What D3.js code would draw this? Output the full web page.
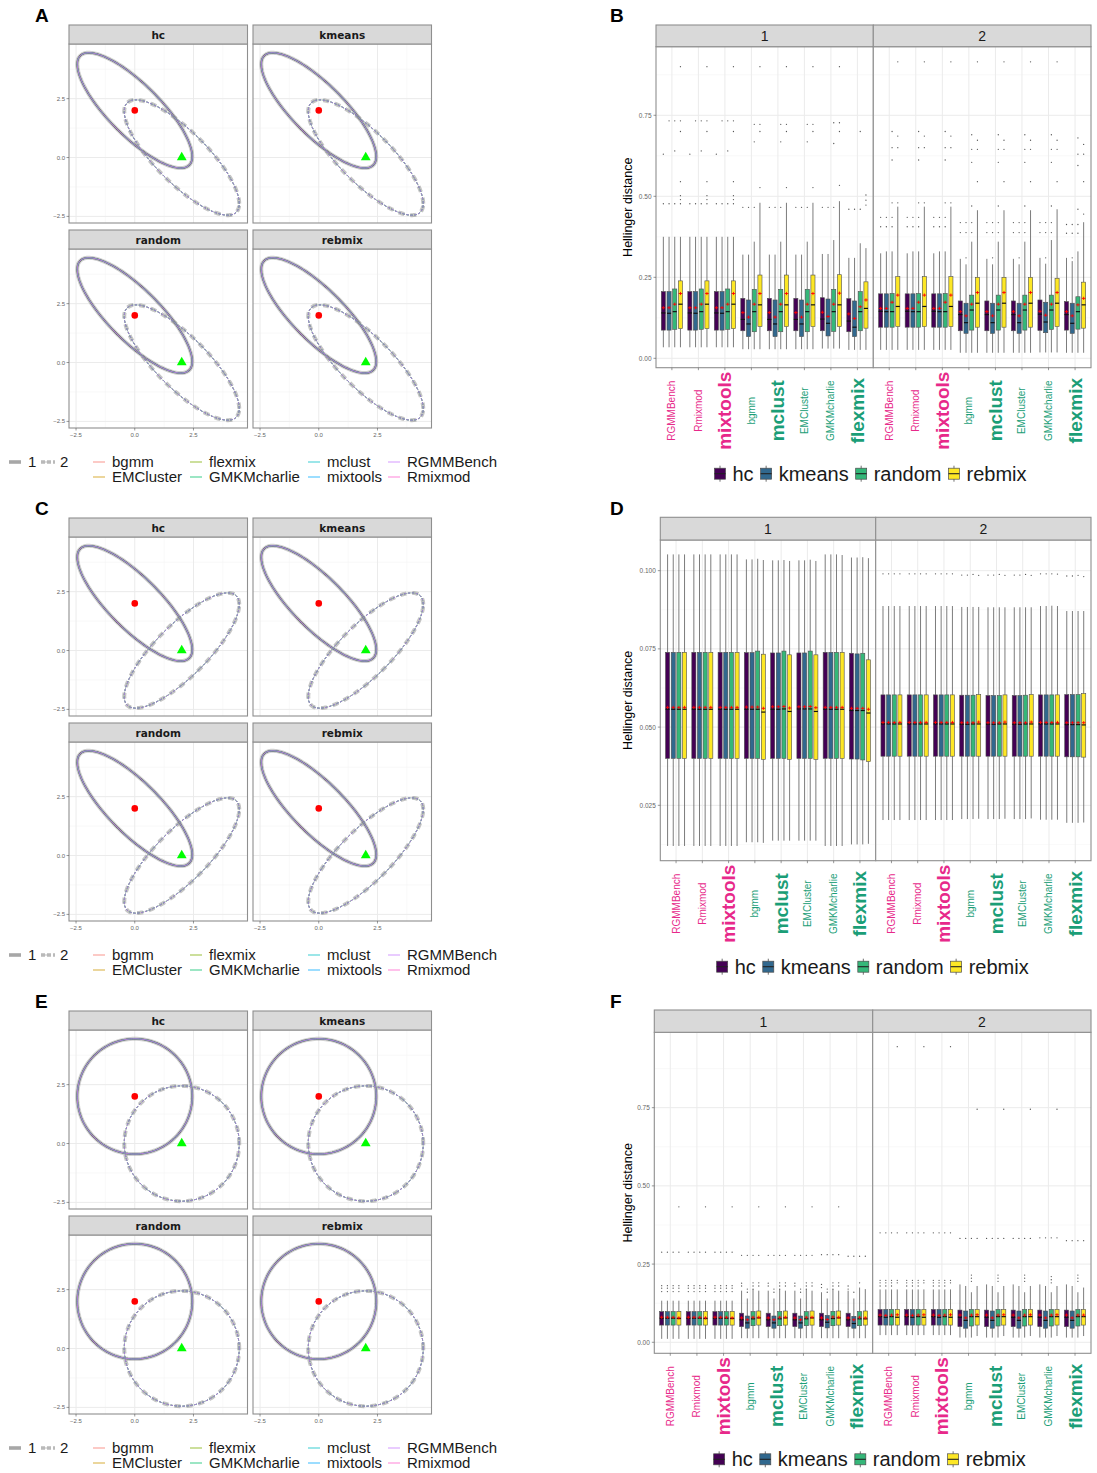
<!DOCTYPE html>
<html>
<head>
<meta charset="utf-8">
<script src="https://cdn.jsdelivr.net/npm/d3@7"></script>
<style>
  body { margin: 0; background: #fff; }
  svg { display: block; font-family: "Liberation Sans", Arial, sans-serif; }
</style>
</head>
<body>
<svg id="fig" width="1097" height="1473"></svg>
<script>
// ---------------- data ----------------
const initMethods = ["hc", "kmeans", "random", "rebmix"];
const initColors = ["#440154", "#31688E", "#35B779", "#FDE725"];
const packages = ["RGMMBench", "Rmixmod", "mixtools", "bgmm", "mclust", "EMCluster", "GMKMcharlie", "flexmix"];
const packageLabelColors = ["#E7298A", "#E7298A", "#E7298A", "#1B9E77", "#1B9E77", "#1B9E77", "#1B9E77", "#1B9E77"];
const packageLabelBold = [false, false, true, false, true, false, false, true];
const legendPackages = ["bgmm", "EMCluster", "flexmix", "GMKMcharlie", "mclust", "mixtools", "RGMMBench", "Rmixmod"];
const legendColors = ["#F8766D", "#CD9600", "#7CAE00", "#00BE67", "#00BFC4", "#00A9FF", "#C77CFF", "#FF61CC"];
const componentLabels = ["1", "2"];
const facetLabels = ["1", "2"];

// two bivariate Gaussian components: means, unit variances, correlation per scenario
const componentMeans = [[0, 2], [2, 0]];
const componentVar = [1, 1];
const corrA = [-0.8, -0.8];
const corrC = [-0.8, 0.8];
const corrE = [0, 0];
const ellipseTicks = [-2.5, 0, 2.5];
const ellipseMinorTicks = [-1.25, 1.25, 3.75];

const hellTicksBF = [0, 0.25, 0.5, 0.75];
const hellTicksD = [0.025, 0.05, 0.075, 0.1];

// box statistics per facet and package, one row per init method (hc, kmeans, random, rebmix):
// [lower whisker, Q1, median, Q3, upper whisker, mean]
const statsB = [
  [1, "RGMMBench",   [[.034,.087,.140,.206,.375,.156],[.034,.087,.139,.206,.375,.156],[.034,.0895,.144,.214,.375,.167],[.034,.0916,.167,.239,.375,.200]]],
  [1, "Rmixmod",     [[.034,.087,.140,.206,.375,.156],[.034,.087,.139,.206,.375,.156],[.034,.0895,.144,.214,.375,.167],[.034,.0916,.167,.239,.375,.200]]],
  [1, "mixtools",    [[.034,.087,.140,.206,.375,.156],[.034,.087,.139,.206,.375,.156],[.034,.0895,.144,.214,.375,.167],[.034,.0916,.167,.239,.375,.200]]],
  [1, "bgmm",        [[.028,.085,.120,.185,.320,.141],[.028,.067,.106,.180,.320,.127],[.028,.082,.144,.213,.360,.167],[.028,.098,.165,.257,.480,.200]]],
  [1, "mclust",      [[.028,.085,.120,.185,.320,.141],[.028,.067,.106,.180,.320,.127],[.028,.082,.144,.213,.360,.167],[.028,.098,.165,.257,.480,.200]]],
  [1, "EMCluster",   [[.028,.085,.120,.185,.320,.141],[.028,.067,.106,.180,.320,.127],[.028,.082,.144,.213,.360,.167],[.028,.098,.165,.257,.480,.200]]],
  [1, "GMKMcharlie", [[.030,.085,.121,.187,.322,.142],[.030,.069,.108,.183,.322,.129],[.030,.083,.144,.213,.365,.167],[.030,.098,.165,.258,.485,.201]]],
  [1, "flexmix",     [[.026,.082,.115,.184,.310,.137],[.026,.067,.096,.177,.310,.123],[.026,.085,.144,.206,.355,.159],[.026,.093,.154,.236,.340,.180]]],
  [2, "RGMMBench",   [[.026,.096,.145,.199,.324,.154],[.026,.096,.144,.199,.330,.154],[.026,.096,.144,.200,.330,.173],[.026,.098,.160,.252,.468,.195]]],
  [2, "Rmixmod",     [[.026,.096,.145,.199,.324,.154],[.026,.096,.144,.199,.330,.154],[.026,.096,.144,.200,.330,.173],[.026,.098,.160,.252,.468,.195]]],
  [2, "mixtools",    [[.026,.096,.145,.199,.324,.154],[.026,.096,.144,.199,.330,.154],[.026,.096,.144,.200,.330,.173],[.026,.098,.160,.252,.468,.195]]],
  [2, "bgmm",        [[.017,.085,.135,.177,.307,.144],[.017,.077,.110,.170,.290,.131],[.017,.087,.149,.195,.360,.167],[.017,.096,.170,.250,.457,.203]]],
  [2, "mclust",      [[.017,.085,.135,.177,.307,.144],[.017,.077,.110,.170,.290,.131],[.017,.087,.149,.195,.360,.167],[.017,.096,.170,.250,.457,.203]]],
  [2, "EMCluster",   [[.017,.085,.135,.177,.307,.144],[.017,.077,.110,.170,.290,.131],[.017,.087,.149,.195,.360,.167],[.017,.096,.170,.250,.457,.203]]],
  [2, "GMKMcharlie", [[.018,.086,.136,.180,.310,.145],[.018,.079,.112,.173,.292,.133],[.018,.089,.149,.195,.365,.167],[.018,.098,.170,.247,.460,.203]]],
  [2, "flexmix",     [[.017,.087,.135,.175,.310,.144],[.017,.077,.108,.170,.300,.131],[.017,.090,.144,.190,.330,.165],[.017,.093,.165,.235,.420,.185]]]
];
const outliersB = [
  [1, "RGMMBench",   [[.63,.477],[.733,.477],[.733,.64,.477],[.90,.733,.70,.545,.502,.49,.477]]],
  [1, "Rmixmod",     [[.63,.477],[.733,.477],[.733,.64,.477],[.90,.733,.70,.545,.502,.49,.477]]],
  [1, "mixtools",    [[.63,.477],[.733,.477],[.733,.64,.477],[.90,.733,.70,.545,.502,.49,.477]]],
  [1, "bgmm",        [[.466],[.466],[.722,.668,.466],[.90,.722,.70,.527]]],
  [1, "mclust",      [[.466],[.466],[.722,.668,.466],[.90,.722,.70,.527]]],
  [1, "EMCluster",   [[.466],[.466],[.722,.668,.466],[.90,.722,.70,.527]]],
  [1, "GMKMcharlie", [[.466],[.466],[.727,.663,.466],[.90,.727,.70,.534]]],
  [1, "flexmix",     [[.46],[.46],[.70,.46],[.504,.488,.473]]],
  [2, "RGMMBench",   [[.435,.406],[.435,.406],[.70,.65,.612,.48,.435,.406],[.915,.686,.65,.48]]],
  [2, "Rmixmod",     [[.435,.406],[.435,.406],[.70,.65,.612,.48,.435,.406],[.915,.686,.65,.48]]],
  [2, "mixtools",    [[.435,.406],[.435,.406],[.70,.65,.612,.48,.435,.406],[.915,.686,.65,.48]]],
  [2, "bgmm",        [[.419,.388],[.419,.388,.31],[.69,.645,.605,.47,.419,.388],[.915,.673,.645,.545]]],
  [2, "mclust",      [[.419,.388],[.419,.388,.31],[.69,.645,.605,.47,.419,.388],[.915,.673,.645,.545]]],
  [2, "EMCluster",   [[.419,.388],[.419,.388,.31],[.69,.645,.605,.47,.419,.388],[.915,.673,.645,.545]]],
  [2, "GMKMcharlie", [[.419,.388],[.419,.388,.31],[.69,.645,.605,.47,.419,.388],[.915,.673,.645,.545]]],
  [2, "flexmix",     [[.413,.386],[.413,.386,.31],[.68,.63,.595,.46,.413,.386],[.66,.63,.545,.445]]]
];

const statsD = [
  [1, "RGMMBench",   [[.0120,.0400,.0557,.0739,.1052,.0563],[.0120,.0400,.0557,.0739,.1052,.0563],[.0120,.0400,.0557,.0739,.1052,.0563],[.0120,.0400,.0557,.0739,.1052,.0563]]],
  [1, "Rmixmod",     [[.0120,.0400,.0557,.0739,.1052,.0563],[.0120,.0400,.0557,.0739,.1052,.0563],[.0120,.0400,.0557,.0739,.1052,.0563],[.0120,.0400,.0557,.0739,.1052,.0563]]],
  [1, "mixtools",    [[.0120,.0400,.0557,.0739,.1052,.0563],[.0120,.0400,.0557,.0739,.1052,.0563],[.0120,.0400,.0557,.0739,.1052,.0563],[.0120,.0400,.0557,.0739,.1052,.0563]]],
  [1, "bgmm",        [[.0132,.0400,.0557,.0738,.1036,.0564],[.0132,.0400,.0557,.0738,.1036,.0564],[.0132,.0400,.0557,.0743,.1038,.0564],[.0130,.0397,.0548,.0733,.1034,.0560]]],
  [1, "mclust",      [[.0137,.0400,.0557,.0737,.1033,.0565],[.0137,.0400,.0557,.0737,.1033,.0565],[.0137,.0400,.0558,.0743,.1034,.0566],[.0137,.0397,.0550,.0731,.1031,.0561]]],
  [1, "EMCluster",   [[.0137,.0400,.0558,.0737,.1033,.0565],[.0137,.0400,.0558,.0737,.1033,.0565],[.0137,.0400,.0558,.0743,.1035,.0566],[.0137,.0397,.0550,.0731,.1031,.0562]]],
  [1, "GMKMcharlie", [[.0120,.0400,.0557,.0739,.1052,.0563],[.0120,.0400,.0557,.0739,.1052,.0563],[.0120,.0400,.0557,.0739,.1052,.0563],[.0120,.0400,.0557,.0739,.1050,.0563]]],
  [1, "flexmix",     [[.0125,.0398,.0553,.0736,.1042,.0560],[.0125,.0398,.0553,.0734,.1042,.0560],[.0125,.0395,.0553,.0736,.1043,.0560],[.0127,.0390,.0545,.0715,.1040,.0557]]],
  [2, "RGMMBench",   [[.0203,.0407,.0510,.0603,.0887,.0515],[.0203,.0407,.0510,.0603,.0887,.0515],[.0203,.0407,.0510,.0603,.0887,.0515],[.0203,.0407,.0510,.0603,.0887,.0515]]],
  [2, "Rmixmod",     [[.0203,.0407,.0510,.0603,.0887,.0515],[.0203,.0407,.0510,.0603,.0887,.0515],[.0203,.0407,.0510,.0603,.0887,.0515],[.0203,.0407,.0510,.0603,.0887,.0515]]],
  [2, "mixtools",    [[.0203,.0407,.0510,.0603,.0887,.0515],[.0203,.0407,.0510,.0603,.0887,.0515],[.0203,.0407,.0510,.0603,.0887,.0515],[.0203,.0407,.0510,.0603,.0887,.0515]]],
  [2, "bgmm",        [[.0206,.0407,.0509,.0602,.0884,.0514],[.0206,.0407,.0509,.0602,.0884,.0514],[.0206,.0407,.0510,.0602,.0884,.0514],[.0207,.0407,.0510,.0604,.0884,.0516]]],
  [2, "mclust",      [[.0206,.0407,.0509,.0601,.0883,.0514],[.0206,.0407,.0509,.0601,.0883,.0514],[.0206,.0407,.0510,.0601,.0883,.0514],[.0207,.0407,.0510,.0603,.0883,.0516]]],
  [2, "EMCluster",   [[.0206,.0407,.0509,.0601,.0883,.0514],[.0206,.0407,.0509,.0601,.0883,.0514],[.0206,.0407,.0510,.0602,.0883,.0514],[.0208,.0407,.0510,.0604,.0883,.0516]]],
  [2, "GMKMcharlie", [[.0204,.0407,.0510,.0603,.0887,.0515],[.0204,.0407,.0510,.0603,.0887,.0515],[.0204,.0407,.0510,.0603,.0888,.0515],[.0204,.0407,.0510,.0603,.0887,.0515]]],
  [2, "flexmix",     [[.0194,.0405,.0508,.0604,.0871,.0514],[.0194,.0405,.0508,.0604,.0871,.0514],[.0194,.0405,.0508,.0604,.0871,.0514],[.0195,.0404,.0507,.0607,.0871,.0514]]]
];
const outliersD = [
  [2, "RGMMBench",   [[.0990],[.0990],[.0990],[.0990]]],
  [2, "Rmixmod",     [[.0990],[.0990],[.0990],[.0990]]],
  [2, "mixtools",    [[.0990],[.0990],[.0990],[.0990]]],
  [2, "bgmm",        [[.0986],[.0986],[.0988],[.0985]]],
  [2, "mclust",      [[.0986],[.0986],[.0988],[.0985]]],
  [2, "EMCluster",   [[.0986],[.0986],[.0988],[.0985]]],
  [2, "GMKMcharlie", [[.0990],[.0990],[.0990],[.0989]]],
  [2, "flexmix",     [[.0983],[.0983],[.0985],[.0981]]]
];

const statsF = [
  [1, "RGMMBench",   [[.011,.055,.077,.098,.133,.080],[.011,.055,.077,.098,.133,.080],[.011,.055,.077,.098,.133,.080],[.011,.055,.076,.099,.133,.078]]],
  [1, "Rmixmod",     [[.011,.055,.077,.098,.133,.080],[.011,.055,.077,.098,.133,.080],[.011,.055,.077,.098,.133,.080],[.011,.055,.076,.099,.133,.078]]],
  [1, "mixtools",    [[.011,.055,.077,.098,.133,.080],[.011,.055,.077,.098,.133,.080],[.011,.055,.077,.098,.133,.080],[.011,.055,.076,.099,.133,.078]]],
  [1, "bgmm",        [[.013,.050,.072,.093,.165,.078],[.013,.045,.062,.084,.140,.072],[.013,.053,.075,.098,.170,.080],[.013,.055,.078,.100,.165,.080]]],
  [1, "mclust",      [[.013,.050,.072,.093,.165,.078],[.013,.045,.062,.084,.140,.072],[.013,.053,.075,.098,.170,.080],[.013,.055,.078,.100,.165,.080]]],
  [1, "EMCluster",   [[.013,.050,.072,.093,.165,.078],[.013,.045,.062,.084,.140,.072],[.013,.053,.075,.098,.170,.080],[.013,.055,.078,.100,.165,.080]]],
  [1, "GMKMcharlie", [[.013,.050,.072,.093,.160,.078],[.013,.046,.064,.086,.140,.073],[.013,.053,.076,.099,.170,.081],[.013,.055,.078,.100,.165,.080]]],
  [1, "flexmix",     [[.013,.050,.072,.093,.165,.078],[.013,.045,.060,.083,.140,.072],[.013,.053,.075,.098,.175,.080],[.013,.055,.075,.100,.170,.078]]],
  [2, "RGMMBench",   [[.023,.055,.082,.105,.169,.087],[.023,.055,.080,.105,.169,.086],[.023,.055,.082,.105,.169,.087],[.023,.055,.080,.105,.169,.088]]],
  [2, "Rmixmod",     [[.023,.055,.082,.105,.169,.087],[.023,.055,.080,.105,.169,.086],[.023,.055,.082,.105,.169,.087],[.023,.055,.080,.105,.169,.088]]],
  [2, "mixtools",    [[.023,.055,.082,.105,.169,.087],[.023,.055,.080,.105,.169,.086],[.023,.055,.082,.105,.169,.087],[.023,.055,.080,.105,.169,.088]]],
  [2, "bgmm",        [[.015,.050,.080,.103,.185,.087],[.015,.045,.070,.100,.180,.078],[.015,.052,.082,.105,.160,.087],[.020,.055,.082,.105,.180,.088]]],
  [2, "mclust",      [[.015,.050,.080,.103,.185,.087],[.015,.045,.070,.100,.180,.078],[.015,.052,.082,.105,.160,.087],[.020,.055,.082,.105,.180,.088]]],
  [2, "EMCluster",   [[.015,.050,.080,.103,.185,.087],[.015,.045,.070,.100,.180,.078],[.015,.052,.082,.105,.160,.087],[.020,.055,.082,.105,.180,.088]]],
  [2, "GMKMcharlie", [[.015,.050,.080,.103,.185,.087],[.015,.045,.070,.100,.180,.078],[.015,.052,.082,.105,.160,.087],[.020,.055,.082,.105,.180,.088]]],
  [2, "flexmix",     [[.015,.050,.080,.103,.185,.087],[.015,.045,.070,.100,.180,.078],[.015,.052,.082,.105,.160,.087],[.020,.055,.082,.105,.175,.087]]]
];
const outliersF = [
  [1, "RGMMBench",   [[.288,.181,.173,.162],[.288,.181,.173,.162],[.288,.181,.173,.162],[.433,.288,.181,.173,.162]]],
  [1, "Rmixmod",     [[.288,.181,.173,.162],[.288,.181,.173,.162],[.288,.181,.173,.162],[.433,.288,.181,.173,.162]]],
  [1, "mixtools",    [[.288,.181,.173,.162],[.288,.181,.173,.162],[.288,.181,.173,.162],[.433,.288,.181,.173,.162]]],
  [1, "bgmm",        [[.278,.189,.18],[.278,.17,.16],[.278,.19,.18,.17],[.433,.278,.19,.18]]],
  [1, "mclust",      [[.278,.189,.18],[.278,.17,.16],[.278,.19,.18,.17],[.433,.278,.19,.18]]],
  [1, "EMCluster",   [[.278,.189,.18],[.278,.17,.16],[.278,.19,.18,.17],[.433,.278,.19,.18]]],
  [1, "GMKMcharlie", [[.280,.185,.175],[.280,.17,.16],[.280,.19,.18,.17],[.433,.280,.19,.18]]],
  [1, "flexmix",     [[.275,.18,.17],[.275,.16],[.275,.19],[.275]]],
  [2, "RGMMBench",   [[.350,.198,.19,.18],[.350,.198,.19,.18],[.350,.198,.19,.18],[.945,.350,.198,.19]]],
  [2, "Rmixmod",     [[.350,.198,.19,.18],[.350,.198,.19,.18],[.350,.198,.19,.18],[.945,.350,.198,.19]]],
  [2, "mixtools",    [[.350,.198,.19,.18],[.350,.198,.19,.18],[.350,.198,.19,.18],[.945,.350,.198,.19]]],
  [2, "bgmm",        [[.332],[.332],[.332,.215,.205,.195],[.745,.332]]],
  [2, "mclust",      [[.332],[.332],[.332,.215,.205,.195],[.745,.332]]],
  [2, "EMCluster",   [[.332],[.332],[.332,.215,.205,.195],[.745,.332]]],
  [2, "GMKMcharlie", [[.334],[.334],[.334,.21,.20,.19],[.745,.334]]],
  [2, "flexmix",     [[.325],[.325],[.325,.215,.205,.195],[.325]]]
];

// ---------------- drawing ----------------
const svg = d3.select("#fig");
const FONT = "'Liberation Sans', Arial, sans-serif";
const STRIP_FONT = "'DejaVu Sans', Verdana, sans-serif";
const GRID_MAJOR = "#ebebeb", GRID_MINOR = "#f5f5f5", BORDER = "#8f8f8f";

function panelLetter(t, x, y) {
  svg.append("text").attr("x", x).attr("y", y).attr("font-family", FONT)
    .attr("font-size", 19).attr("font-weight", "bold").attr("fill", "#000").text(t);
}

// 95% contour of a bivariate normal with unit variances and correlation r
function ellipsePoints(mu, v, r, n = 160) {
  const c = Math.sqrt(5.991 * v);
  const s = Math.sqrt(1 - r * r);
  return d3.range(n + 1).map(i => {
    const t = 2 * Math.PI * i / n;
    return [mu[0] + c * Math.cos(t), mu[1] + c * (r * Math.cos(t) + s * Math.sin(t))];
  });
}

// ----- 2x2 facet grid of component contours -----
function drawContourGrid(oy, corr) {
  const colX = [69, 253], panelW = 178.5;
  const stripTops = [25 + oy, 230 + oy], stripH = 19, panelH = 179;
  const g = svg.append("g");
  initMethods.forEach((m, i) => {
    const col = i % 2, row = Math.floor(i / 2);
    const x0 = colX[col], y0 = stripTops[row] + stripH;
    const x = d3.scaleLinear().domain([-2.8, 4.8]).range([x0, x0 + panelW]);
    const y = d3.scaleLinear().domain([-2.78, 4.82]).range([y0 + panelH, y0]);
    const pg = g.append("g");
    pg.append("rect").attr("x", x0).attr("y", y0).attr("width", panelW).attr("height", panelH).attr("fill", "#fff");
    ellipseMinorTicks.forEach(t => {
      pg.append("line").attr("x1", x(t)).attr("x2", x(t)).attr("y1", y0).attr("y2", y0 + panelH).attr("stroke", GRID_MINOR).attr("stroke-width", 0.6);
      pg.append("line").attr("x1", x0).attr("x2", x0 + panelW).attr("y1", y(t)).attr("y2", y(t)).attr("stroke", GRID_MINOR).attr("stroke-width", 0.6);
    });
    ellipseTicks.forEach(t => {
      pg.append("line").attr("x1", x(t)).attr("x2", x(t)).attr("y1", y0).attr("y2", y0 + panelH).attr("stroke", GRID_MAJOR).attr("stroke-width", 1);
      pg.append("line").attr("x1", x0).attr("x2", x0 + panelW).attr("y1", y(t)).attr("y2", y(t)).attr("stroke", GRID_MAJOR).attr("stroke-width", 1);
    });
    const line = d3.line().x(d => x(d[0])).y(d => y(d[1]));
    componentMeans.forEach((mu, k) => {
      const pts = ellipsePoints(mu, componentVar[k], corr[k]);
      const dashed = k === 1;
      // soft grey band of the component outline
      pg.append("path").attr("d", line(pts)).attr("fill", "none")
        .attr("stroke", "#8a8a8a").attr("stroke-opacity", dashed ? 0.5 : 0.4).attr("stroke-width", 4)
        .attr("stroke-dasharray", dashed ? "6 6" : null);
      if (!dashed) {
        pg.append("path").attr("d", line(pts)).attr("fill", "none")
          .attr("stroke", "#505050").attr("stroke-opacity", 0.9).attr("stroke-width", 1.7);
      }
      legendPackages.forEach((p, j) => {
        pg.append("path").attr("d", line(pts)).attr("fill", "none")
          .attr("stroke", legendColors[j]).attr("stroke-opacity", dashed ? 0.5 : 0.55).attr("stroke-width", 0.9)
          .attr("stroke-dasharray", dashed ? "2.5 1.5" : null);
      });
    });
    pg.append("circle").attr("cx", x(componentMeans[0][0])).attr("cy", y(componentMeans[0][1])).attr("r", 3.3).attr("fill", "#FF0000");
    pg.append("path").attr("d", d3.symbol(d3.symbolTriangle, 42)())
      .attr("transform", `translate(${x(componentMeans[1][0])},${y(componentMeans[1][1])})`).attr("fill", "#00FF00");
    pg.append("rect").attr("x", x0).attr("y", y0).attr("width", panelW).attr("height", panelH)
      .attr("fill", "none").attr("stroke", BORDER).attr("stroke-width", 1.1);
    // strip
    pg.append("rect").attr("x", x0).attr("y", stripTops[row]).attr("width", panelW).attr("height", stripH)
      .attr("fill", "#d9d9d9").attr("stroke", BORDER).attr("stroke-width", 1.1);
    pg.append("text").attr("x", x0 + panelW / 2).attr("y", stripTops[row] + stripH / 2 + 0.5)
      .attr("text-anchor", "middle").attr("dominant-baseline", "central")
      .attr("font-family", STRIP_FONT).attr("font-weight", "bold").attr("font-size", 10.5).attr("fill", "#1a1a1a").text(m);
    // axes
    if (col === 0) {
      ellipseTicks.forEach(t => {
        pg.append("line").attr("x1", x0 - 2.5).attr("x2", x0).attr("y1", y(t)).attr("y2", y(t)).attr("stroke", "#555").attr("stroke-width", 0.6);
        pg.append("text").attr("x", x0 - 4).attr("y", y(t)).attr("text-anchor", "end").attr("dominant-baseline", "central")
          .attr("font-family", FONT).attr("font-size", 6).attr("fill", "#666").text(d3.format(".1f")(t));
      });
    }
    if (row === 1) {
      ellipseTicks.forEach(t => {
        pg.append("line").attr("x1", x(t)).attr("x2", x(t)).attr("y1", y0 + panelH).attr("y2", y0 + panelH + 2.5).attr("stroke", "#555").attr("stroke-width", 0.6);
        pg.append("text").attr("x", x(t)).attr("y", y0 + panelH + 9).attr("text-anchor", "middle")
          .attr("font-family", FONT).attr("font-size", 6).attr("fill", "#666").text(d3.format(".1f")(t));
      });
    }
  });
  // legend: component line types and package colours
  const ly = [462 + oy, 477 + oy];
  const lg = g.append("g").attr("font-family", FONT).attr("font-size", 15).attr("fill", "#1a1a1a");
  lg.append("line").attr("x1", 9).attr("x2", 21).attr("y1", ly[0]).attr("y2", ly[0]).attr("stroke", "#8a8a8a").attr("stroke-opacity", 0.75).attr("stroke-width", 3.6);
  lg.append("text").attr("x", 28).attr("y", ly[0] + 5).text(componentLabels[0]);
  lg.append("line").attr("x1", 41).attr("x2", 55).attr("y1", ly[0]).attr("y2", ly[0]).attr("stroke", "#8a8a8a").attr("stroke-opacity", 0.6).attr("stroke-width", 3.6).attr("stroke-dasharray", "4 2");
  lg.append("line").attr("x1", 41).attr("x2", 55).attr("y1", ly[0]).attr("y2", ly[0]).attr("stroke", "#bbb").attr("stroke-width", 1).attr("stroke-dasharray", "2 2");
  lg.append("text").attr("x", 60).attr("y", ly[0] + 5).text(componentLabels[1]);
  const colKeyX = [93, 190, 308, 388];
  legendPackages.forEach((p, j) => {
    const c = Math.floor(j / 2), r = j % 2;
    lg.append("line").attr("x1", colKeyX[c]).attr("x2", colKeyX[c] + 12).attr("y1", ly[r]).attr("y2", ly[r])
      .attr("stroke", legendColors[j]).attr("stroke-opacity", 0.65).attr("stroke-width", 1.2);
    lg.append("text").attr("x", colKeyX[c] + 19).attr("y", ly[r] + 5).text(p);
  });
}

// ----- boxplots of Hellinger distance, faceted by component -----
function drawBoxPanel(cfg) {
  const { x0, xDiv, x1, stripTop, stripBottom, panelBottom, domain, ticks, fmt, stats, outliers } = cfg;
  const y = d3.scaleLinear().domain(domain).range([panelBottom, stripBottom]);
  const tStep = ticks[1] - ticks[0];
  const minor = d3.range(ticks[0] - tStep / 2, domain[1], tStep).filter(v => v > domain[0] && v < domain[1]);
  const g = svg.append("g");
  const facetBounds = [[x0, xDiv], [xDiv, x1]];
  facetBounds.forEach(([fa, fb], fi) => {
    const facet = fi + 1;
    const x = d3.scalePoint().domain(packages).range([fa, fb]).padding(0.6);
    const step = x.step();
    const slot = 0.215 * step, bw = 0.155 * step;
    const pg = g.append("g");
    pg.append("rect").attr("x", fa).attr("y", stripBottom).attr("width", fb - fa).attr("height", panelBottom - stripBottom).attr("fill", "#fff");
    minor.forEach(v => pg.append("line").attr("x1", fa).attr("x2", fb).attr("y1", y(v)).attr("y2", y(v)).attr("stroke", GRID_MINOR).attr("stroke-width", 0.6));
    ticks.forEach(v => pg.append("line").attr("x1", fa).attr("x2", fb).attr("y1", y(v)).attr("y2", y(v)).attr("stroke", GRID_MAJOR).attr("stroke-width", 1));
    packages.forEach(p => pg.append("line").attr("x1", x(p)).attr("x2", x(p)).attr("y1", stripBottom).attr("y2", panelBottom).attr("stroke", GRID_MAJOR).attr("stroke-width", 1));

    stats.filter(r => r[0] === facet).forEach(([, pkg, rows]) => {
      rows.forEach((s, j) => {
        const [lo, q1, med, q3, hi, mean] = s;
        const cx = x(pkg) + (j - 1.5) * slot;
        pg.append("line").attr("x1", cx).attr("x2", cx).attr("y1", y(hi)).attr("y2", y(q3)).attr("stroke", "#5a5a5a").attr("stroke-width", 0.8);
        pg.append("line").attr("x1", cx).attr("x2", cx).attr("y1", y(q1)).attr("y2", y(lo)).attr("stroke", "#5a5a5a").attr("stroke-width", 0.8);
        pg.append("rect").attr("x", cx - bw / 2).attr("y", y(q3)).attr("width", bw).attr("height", y(q1) - y(q3))
          .attr("fill", initColors[j]).attr("stroke", "#4d4d4d").attr("stroke-width", 0.6);
        pg.append("line").attr("x1", cx - bw / 2).attr("x2", cx + bw / 2).attr("y1", y(med)).attr("y2", y(med)).attr("stroke", "#111").attr("stroke-width", 1.2);
        pg.append("line").attr("x1", cx - 1.8).attr("x2", cx + 1.8).attr("y1", y(mean)).attr("y2", y(mean)).attr("stroke", "#FF0000").attr("stroke-width", 0.9);
        pg.append("line").attr("x1", cx).attr("x2", cx).attr("y1", y(mean) - 1.6).attr("y2", y(mean) + 1.6).attr("stroke", "#FF0000").attr("stroke-width", 0.9);
      });
    });
    outliers.filter(r => r[0] === facet).forEach(([, pkg, rows]) => {
      rows.forEach((vals, j) => {
        const cx = x(pkg) + (j - 1.5) * slot;
        vals.forEach(v => pg.append("circle").attr("cx", cx).attr("cy", y(v)).attr("r", 0.65).attr("fill", "#555"));
      });
    });
    pg.append("rect").attr("x", fa).attr("y", stripBottom).attr("width", fb - fa).attr("height", panelBottom - stripBottom)
      .attr("fill", "none").attr("stroke", BORDER).attr("stroke-width", 1.1);
    // strip
    pg.append("rect").attr("x", fa).attr("y", stripTop).attr("width", fb - fa).attr("height", stripBottom - stripTop)
      .attr("fill", "#d9d9d9").attr("stroke", BORDER).attr("stroke-width", 1.1);
    pg.append("text").attr("x", (fa + fb) / 2).attr("y", (stripTop + stripBottom) / 2 + 0.5)
      .attr("text-anchor", "middle").attr("dominant-baseline", "central")
      .attr("font-family", FONT).attr("font-size", 14).attr("fill", "#1a1a1a").text(facetLabels[fi]);
    // category labels
    packages.forEach((p, k) => {
      pg.append("line").attr("x1", x(p)).attr("x2", x(p)).attr("y1", panelBottom).attr("y2", panelBottom + 2.5).attr("stroke", "#555").attr("stroke-width", 0.6);
      const cy = panelBottom + 43;
      pg.append("text").attr("x", x(p)).attr("y", cy)
        .attr("transform", `rotate(-90,${x(p)},${cy})`)
        .attr("text-anchor", "middle").attr("dominant-baseline", "central")
        .attr("font-family", FONT)
        .attr("font-size", packageLabelBold[k] ? 19 : 10)
        .attr("font-weight", packageLabelBold[k] ? "bold" : "normal")
        .attr("fill", packageLabelColors[k]).text(p);
    });
  });
  // y axis
  ticks.forEach(v => {
    g.append("line").attr("x1", x0 - 2.5).attr("x2", x0).attr("y1", y(v)).attr("y2", y(v)).attr("stroke", "#555").attr("stroke-width", 0.6);
    g.append("text").attr("x", x0 - 4.5).attr("y", y(v)).attr("text-anchor", "end").attr("dominant-baseline", "central")
      .attr("font-family", FONT).attr("font-size", 6.5).attr("fill", "#666").text(fmt(v));
  });
  const ty = (stripBottom + panelBottom) / 2;
  g.append("text").attr("x", 628).attr("y", ty).attr("transform", `rotate(-90,628,${ty})`)
    .attr("text-anchor", "middle").attr("dominant-baseline", "central")
    .attr("font-family", FONT).attr("font-size", 12.5).attr("fill", "#000").text("Hellinger distance");
  // legend of init methods
  const lgY = panelBottom + 113;
  const lg = g.append("g");
  let cur = 0;
  const items = [];
  initMethods.forEach((m, j) => {
    const t = lg.append("text").attr("y", lgY).attr("font-family", FONT).attr("font-size", 20).attr("fill", "#1a1a1a").text(m);
    const w = t.node().getComputedTextLength();
    items.push({ t, key: cur, text: cur + 18, w });
    cur += 18 + w + 7;
  });
  const total = cur - 7;
  const off = (x0 + x1) / 2 - 3 - total / 2;
  items.forEach((it, j) => {
    const kx = off + it.key, kc = lgY - 7;
    lg.append("line").attr("x1", kx + 5.5).attr("x2", kx + 5.5).attr("y1", kc - 8).attr("y2", kc + 8).attr("stroke", "#4d4d4d").attr("stroke-width", 0.8);
    lg.append("rect").attr("x", kx).attr("y", kc - 5.5).attr("width", 11).attr("height", 11)
      .attr("fill", initColors[j]).attr("stroke", "#4d4d4d").attr("stroke-width", 0.7);
    lg.append("line").attr("x1", kx).attr("x2", kx + 11).attr("y1", kc).attr("y2", kc).attr("stroke", "#222").attr("stroke-width", 1.1);
    it.t.attr("x", off + it.text);
  });
}

// rows
panelLetter("A", 35, 22); panelLetter("B", 610, 22);
panelLetter("C", 35, 515); panelLetter("D", 610, 515);
panelLetter("E", 35, 1008); panelLetter("F", 610, 1008);

drawContourGrid(0, corrA);
drawContourGrid(493, corrC);
drawContourGrid(986, corrE);

drawBoxPanel({ x0: 656, xDiv: 873.3, x1: 1091, stripTop: 25, stripBottom: 46.7, panelBottom: 367.7,
  domain: [-0.029, 0.9617], ticks: hellTicksBF, fmt: d3.format(".2f"), stats: statsB, outliers: outliersB });
drawBoxPanel({ x0: 660.3, xDiv: 875.7, x1: 1091, stripTop: 517.3, stripBottom: 540, panelBottom: 860.7,
  domain: [0.0073, 0.1098], ticks: hellTicksD, fmt: d3.format(".3f"), stats: statsD, outliers: outliersD });
drawBoxPanel({ x0: 654.3, xDiv: 872.7, x1: 1091, stripTop: 1010, stripBottom: 1032.3, panelBottom: 1353.3,
  domain: [-0.0352, 0.991], ticks: hellTicksBF, fmt: d3.format(".2f"), stats: statsF, outliers: outliersF });
</script>
</body>
</html>
